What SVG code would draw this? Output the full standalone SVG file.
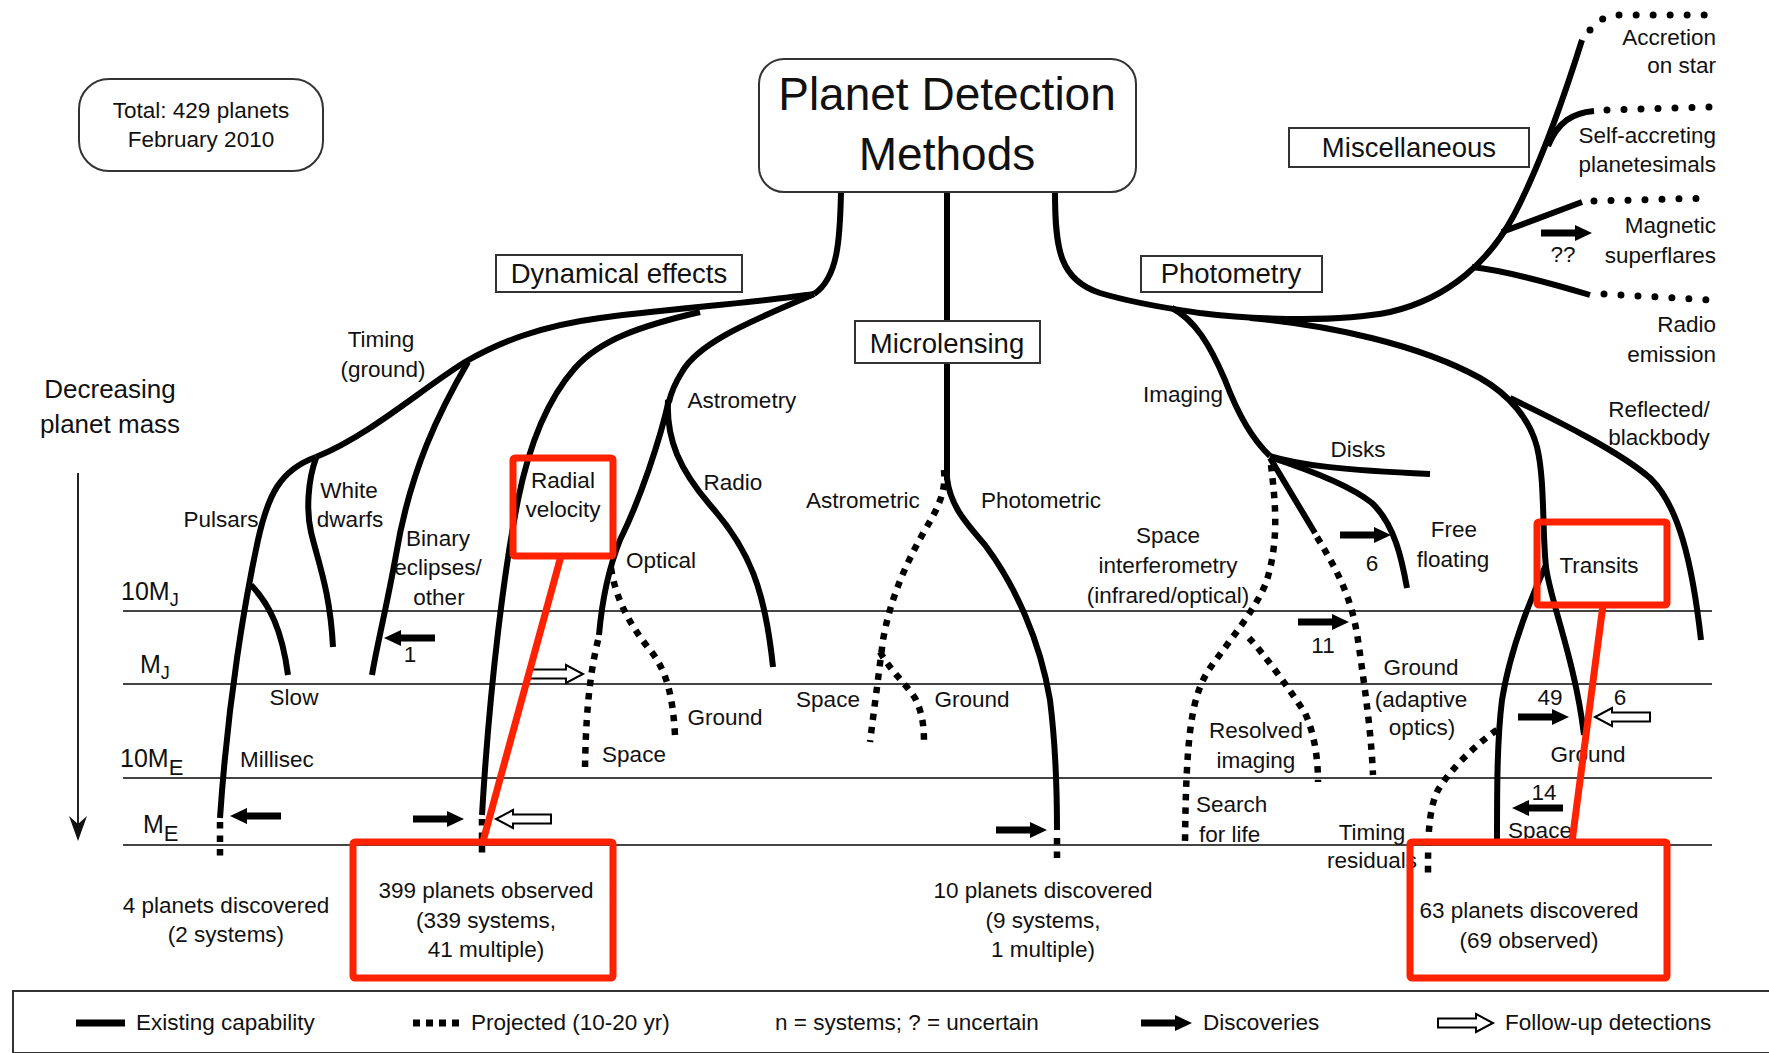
<svg xmlns="http://www.w3.org/2000/svg" xmlns:xlink="http://www.w3.org/1999/xlink" width="1769" height="1053" viewBox="0 0 1769 1053">
<style>
text{font-family:"Liberation Sans",Arial,sans-serif;fill:#111}
.lb{font-size:22.5px;text-anchor:middle}
.ls{font-size:22.5px}
.le{font-size:22.5px;text-anchor:end}
.cat{font-size:27.5px;text-anchor:middle}
.ax{font-size:25px}
.box{fill:#fff;stroke:#333;stroke-width:2}
.s{fill:none;stroke:#000;stroke-width:6;stroke-linecap:butt}
.d{fill:none;stroke:#000;stroke-width:6.5;stroke-dasharray:6.5 7}
.rd{fill:none;stroke:#000;stroke-width:7;stroke-linecap:round;stroke-dasharray:0 17}
.grid{stroke:#444;stroke-width:2}
.red{fill:none;stroke:#ff2200;stroke-width:7;stroke-linejoin:round}
</style>
<defs>
<path id="sa" d="M0,-3.5 H34 V-8 L51,0 L34,8 V3.5 H0 Z" fill="#000"/>
<path id="ha" d="M0,-4.5 H38 V-9 L55,0 L38,9 V4.5 H0 Z" fill="#fff" stroke="#000" stroke-width="2"/>
</defs>
<rect width="1769" height="1053" fill="#fff"/>

<g id="grid">
<line class="grid" x1="123" y1="611" x2="1712" y2="611"/>
<line class="grid" x1="123" y1="684" x2="1712" y2="684"/>
<line class="grid" x1="123" y1="778" x2="1712" y2="778"/>
<line class="grid" x1="123" y1="845" x2="1712" y2="845"/>
<text class="ax" x="121" y="600">10M<tspan font-size="18" dy="6">J</tspan></text>
<text class="ax" x="140" y="673">M<tspan font-size="18" dy="6">J</tspan></text>
<text class="ax" x="120" y="767">10M<tspan font-size="22" dy="8">E</tspan></text>
<text class="ax" x="143" y="833">M<tspan font-size="22" dy="8">E</tspan></text>
<line x1="78" y1="473" x2="78" y2="825" stroke="#222" stroke-width="2"/>
<path d="M69,816 L78,841 L87,816 L78,824 Z" fill="#111"/>
<text x="110" y="398" font-size="26" text-anchor="middle">Decreasing</text>
<text x="110" y="433" font-size="26" text-anchor="middle">planet mass</text>
</g>

<g id="connectors">
<!-- Dynamical effects -->
<path class="s" d="M841,192 C840,240 838,278 814,294"/>
<path class="s" d="M814,294 C760,302 660,310 600,318 C540,326 500,342 465,362 C420,390 370,435 316,457"/>
<path class="s" d="M316,457 C280,470 268,495 258,540 C245,600 228,700 220,818"/>
<path class="d" d="M220,822 V862"/>
<path class="s" d="M316,458 C308,480 306,510 311,532 C318,562 330,590 333,647"/>
<path class="s" d="M251,585 C270,605 282,630 288,675"/>
<path class="s" d="M468,362 C440,410 410,470 396,555 C386,610 377,645 372,675"/>
<path class="s" d="M700,312 C640,326 600,340 575,368 C545,402 528,450 518,500 C505,565 490,680 482,815"/>
<path class="d" d="M482,819 V853"/>
<path class="s" d="M814,294 C760,318 700,340 682,372 Q672,388 669,402"/>
<path class="s" d="M669,400 C660,440 640,500 620,540 C608,570 602,600 599,635"/>
<path class="d" d="M598,640 C592,665 586,700 585,768"/>
<path class="d" d="M611,568 C616,600 630,625 650,650 C668,672 673,700 675,735"/>
<path class="s" d="M668,400 C666,440 680,470 710,505 C750,550 765,590 773,667"/>
<!-- Microlensing -->
<path class="s" d="M947,192 V322 M947,363 V480"/>
<path class="s" d="M947,478 C950,505 965,522 985,545 C1015,585 1040,640 1050,700 C1055,740 1057,790 1057,830"/>
<path class="d" d="M1057,838 V862"/>
<path class="d" d="M944,470 C946,490 940,505 925,530 C905,565 890,600 883,640 C878,680 874,710 870,742"/>
<path class="d" d="M880,652 C890,670 905,683 915,698 C922,712 924,725 924,742"/>
<!-- Photometry / Misc -->
<path class="s" d="M1055,192 C1055,250 1060,280 1100,293 C1140,305 1180,310 1200,313 C1240,318 1330,324 1390,312 C1450,298 1490,260 1514,215 C1535,175 1560,110 1582,40"/>
<path class="rd" d="M1590,30 Q1600,15 1622,15 L1712,15"/>
<path class="s" d="M1548,146 C1558,122 1572,113 1594,111"/>
<path class="rd" d="M1607,110 L1712,107"/>
<path class="s" d="M1502,232 L1582,202"/>
<path class="rd" d="M1594,201 L1712,198"/>
<path class="s" d="M1472,267 C1500,270 1540,280 1590,295"/>
<path class="rd" d="M1604,294 L1712,300"/>
<path class="s" d="M1172,308 C1195,320 1210,345 1225,380 C1240,420 1255,442 1270,456"/>
<path class="s" d="M1270,456 C1300,465 1340,470 1430,474"/>
<path class="s" d="M1270,457 C1310,470 1350,485 1372,503 C1395,525 1402,560 1407,588"/>
<path class="s" d="M1270,458 L1315,533"/>
<path class="d" d="M1317,537 C1340,575 1352,600 1358,640 C1365,690 1371,730 1373,775"/>
<path class="d" d="M1271,465 C1275,500 1280,540 1266,583 C1255,610 1230,640 1210,668 C1192,695 1186,730 1185,845"/>
<path class="d" d="M1249,638 C1265,655 1290,690 1305,713 C1315,735 1318,760 1318,782"/>
<path class="s" d="M1250,318 C1330,325 1420,345 1480,378 C1510,395 1530,420 1537,447 C1545,480 1542,530 1546,567 C1550,600 1575,660 1584,735"/>
<path class="s" d="M1510,398 C1560,422 1620,452 1650,478 C1678,505 1692,560 1701,640"/>
<path class="s" d="M1546,565 C1530,600 1510,650 1502,700 C1497,740 1497,790 1497,842"/>
<path class="d" d="M1497,730 C1475,745 1450,770 1438,790 C1428,810 1428,840 1428,875"/>
<!-- arrows -->
<use href="#sa" transform="translate(281,816) scale(-1,1)"/>
<use href="#sa" transform="translate(435,638) scale(-1,1)"/>
<use href="#sa" transform="translate(413,819)"/>
<use href="#ha" transform="translate(551,819) scale(-1,1)"/>
<use href="#ha" transform="translate(528,674)"/>
<use href="#sa" transform="translate(996,830)"/>
<use href="#sa" transform="translate(1298,622)"/>
<use href="#sa" transform="translate(1340,535)"/>
<use href="#sa" transform="translate(1518,717)"/>
<use href="#ha" transform="translate(1650,717) scale(-1,1)"/>
<use href="#sa" transform="translate(1563,808) scale(-1,1)"/>
<use href="#sa" transform="translate(1541,233)"/>
</g>

<g id="labels">
<text class="lb" x="381" y="347">Timing</text>
<text class="lb" x="383" y="377">(ground)</text>
<text class="lb" x="221" y="527">Pulsars</text>
<text class="lb" x="349" y="498">White</text>
<text class="lb" x="350" y="527">dwarfs</text>
<text class="lb" x="438" y="546">Binary</text>
<text class="lb" x="438" y="575">eclipses/</text>
<text class="lb" x="439" y="605">other</text>
<text class="lb" x="294" y="705">Slow</text>
<text class="lb" x="277" y="767">Millisec</text>
<text class="lb" x="410" y="662">1</text>
<text class="lb" x="742" y="408">Astrometry</text>
<text class="lb" x="733" y="490">Radio</text>
<text class="lb" x="661" y="568">Optical</text>
<text class="lb" x="725" y="725">Ground</text>
<text class="lb" x="634" y="762">Space</text>
<text class="lb" x="863" y="508">Astrometric</text>
<text class="lb" x="1041" y="508">Photometric</text>
<text class="lb" x="828" y="707">Space</text>
<text class="lb" x="972" y="707">Ground</text>
<text class="lb" x="1183" y="402">Imaging</text>
<text class="lb" x="1358" y="457">Disks</text>
<text class="lb" x="1454" y="537">Free</text>
<text class="lb" x="1453" y="567">floating</text>
<text class="lb" x="1372" y="571">6</text>
<text class="lb" x="1168" y="543">Space</text>
<text class="lb" x="1168" y="573">interferometry</text>
<text class="lb" x="1168" y="603">(infrared/optical)</text>
<text class="lb" x="1323" y="653">11</text>
<text class="lb" x="1421" y="675">Ground</text>
<text class="lb" x="1421" y="707">(adaptive</text>
<text class="lb" x="1422" y="735">optics)</text>
<text class="lb" x="1256" y="738">Resolved</text>
<text class="lb" x="1256" y="768">imaging</text>
<text class="ls" x="1196" y="812">Search</text>
<text class="ls" x="1199" y="842">for life</text>
<text class="lb" x="1372" y="840">Timing</text>
<text class="lb" x="1372" y="868">residuals</text>
<text class="lb" x="1550" y="705">49</text>
<text class="lb" x="1620" y="705">6</text>
<text class="lb" x="1588" y="762">Ground</text>
<text class="lb" x="1544" y="800">14</text>
<text class="lb" x="1540" y="838">Space</text>
<text class="lb" x="1659" y="417">Reflected/</text>
<text class="lb" x="1659" y="445">blackbody</text>
<text class="lb" x="1563" y="262">??</text>
<text class="le" x="1716" y="45">Accretion</text>
<text class="le" x="1716" y="73">on star</text>
<text class="le" x="1716" y="143">Self-accreting</text>
<text class="le" x="1716" y="172">planetesimals</text>
<text class="le" x="1716" y="233">Magnetic</text>
<text class="le" x="1716" y="263">superflares</text>
<text class="le" x="1716" y="332">Radio</text>
<text class="le" x="1716" y="362">emission</text>
</g>

<g id="total">
<rect class="box" x="79" y="79" width="244" height="92" rx="30"/>
<text class="lb" x="201" y="118">Total: 429 planets</text>
<text class="lb" x="201" y="147">February 2010</text>
</g>
<g id="title">
<rect class="box" x="759" y="59" width="377" height="133" rx="25"/>
<text x="947" y="110" font-size="46" text-anchor="middle">Planet Detection</text>
<text x="947" y="170" font-size="46" text-anchor="middle">Methods</text>
</g>
<g id="dynamical">
<rect class="box" x="496" y="255" width="246" height="37"/>
<text class="cat" x="619" y="283">Dynamical effects</text>
</g>
<g id="microlensing">
<rect class="box" x="855" y="321" width="185" height="42"/>
<text class="cat" x="947" y="353">Microlensing</text>
</g>
<g id="photometry">
<rect class="box" x="1141" y="256" width="181" height="36"/>
<text class="cat" x="1231" y="283">Photometry</text>
</g>
<g id="misc">
<rect class="box" x="1289" y="128" width="240" height="39"/>
<text class="cat" x="1409" y="157">Miscellaneous</text>
</g>

<g id="results">
<text class="lb" x="226" y="913">4 planets discovered</text>
<text class="lb" x="226" y="942">(2 systems)</text>
<text class="lb" x="486" y="898">399 planets observed</text>
<text class="lb" x="486" y="928">(339 systems,</text>
<text class="lb" x="486" y="957">41 multiple)</text>
<text class="lb" x="1043" y="898">10 planets discovered</text>
<text class="lb" x="1043" y="928">(9 systems,</text>
<text class="lb" x="1043" y="957">1 multiple)</text>
<text class="lb" x="1529" y="918">63 planets discovered</text>
<text class="lb" x="1529" y="948">(69 observed)</text>
</g>

<g id="highlights">
<rect class="red" x="513" y="458" width="100" height="98" rx="2"/>
<text class="lb" x="563" y="488">Radial</text>
<text class="lb" x="563" y="517">velocity</text>
<rect class="red" x="1537" y="522" width="130" height="83" rx="2"/>
<text class="lb" x="1599" y="573">Transits</text>
<rect class="red" x="353" y="842" width="260" height="136" rx="2"/>
<rect class="red" x="1410" y="842" width="257" height="136" rx="2"/>
<line class="red" x1="561" y1="556" x2="482" y2="845"/>
<line class="red" x1="1603" y1="605" x2="1572" y2="842"/>
</g>

<g id="legend">
<rect x="13" y="991" width="1800" height="62" fill="#fff" stroke="#333" stroke-width="2"/>
<line x1="76" y1="1023" x2="125" y2="1023" stroke="#000" stroke-width="7"/>
<text class="ls" x="136" y="1030">Existing capability</text>
<line x1="413" y1="1023" x2="462" y2="1023" stroke="#000" stroke-width="7" stroke-dasharray="7 6"/>
<text class="ls" x="471" y="1030">Projected (10-20 yr)</text>
<text class="ls" x="775" y="1030">n = systems; ? = uncertain</text>
<use href="#sa" transform="translate(1141,1023)"/>
<text class="ls" x="1203" y="1030">Discoveries</text>
<use href="#ha" transform="translate(1438,1023)"/>
<text class="ls" x="1505" y="1030">Follow-up detections</text>
</g>
</svg>
